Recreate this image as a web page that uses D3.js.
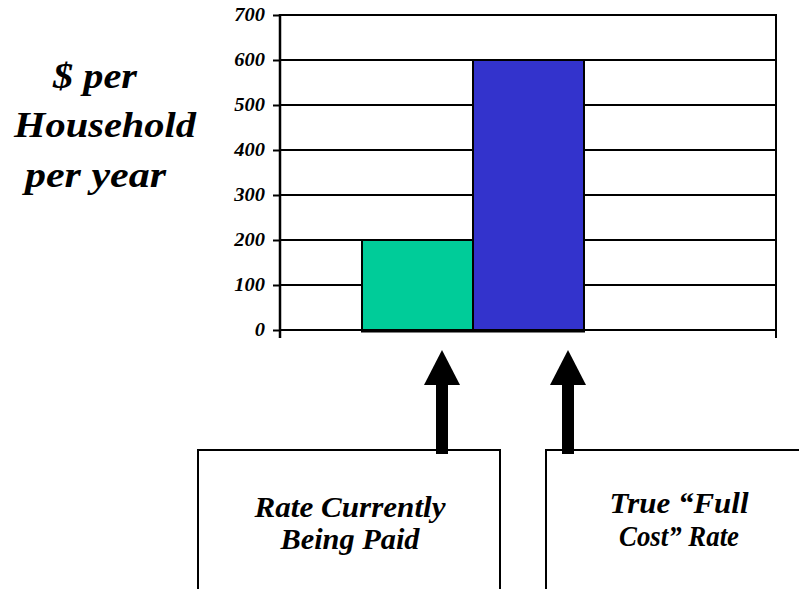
<!DOCTYPE html>
<html><head><meta charset="utf-8">
<script src="https://cdn.jsdelivr.net/npm/d3@7"></script>
<style>html,body{margin:0;padding:0;background:#fff;}svg{display:block;}</style>
</head><body>
<script>
const categories = ["Rate Currently Being Paid", "True \u201cFull Cost\u201d Rate"];
const values = [200, 600];
const barColors = ["#00CC99", "#3333CC"];
const tickValues = [0, 100, 200, 300, 400, 500, 600, 700];
const yTitleLines = ["$ per", "Household", "per year"];
const boxLines = [["Rate Currently", "Being Paid"], ["True \u201cFull", "Cost\u201d Rate"]];

const W = 799, H = 589;
const svg = d3.select("body").append("svg").attr("width", W).attr("height", H);
const font = "Times";
const sx = 1.14; // horizontal stretch of the original picture

const plotL = 280, plotR = 776, plotT = 15, plotB = 330;
const y = d3.scaleLinear().domain([0, 700]).range([plotB, plotT]);
const x = d3.scaleBand().domain(categories).range([362, 584]).padding(0);

// gridlines
svg.append("g").selectAll("line").data(tickValues).join("line")
  .attr("x1", plotL).attr("x2", plotR)
  .attr("y1", d => y(d)).attr("y2", d => y(d))
  .attr("stroke", "#000").attr("stroke-width", 2);

// right border
svg.append("line").attr("x1", plotR).attr("x2", plotR).attr("y1", plotT - 1).attr("y2", plotB + 8)
  .attr("stroke", "#000").attr("stroke-width", 2);

// y axis
const yAxis = d3.axisLeft(y).tickValues(tickValues).tickSize(7).tickPadding(8).tickFormat(d3.format("d"));
const ag = svg.append("g").attr("transform", `translate(${plotL},0)`).call(yAxis);
ag.attr("font-family", font);
ag.select(".domain").remove();
ag.selectAll(".tick line").attr("stroke", "#000").attr("stroke-width", 2);
ag.selectAll(".tick text").style("font-family", font).attr("font-size", 18)
  .attr("font-weight", "bold").attr("font-style", "italic").attr("fill", "#000")
  .attr("x", -15 / sx).attr("transform", `scale(${sx},1)`);
svg.append("line").attr("x1", plotL).attr("x2", plotL).attr("y1", plotT - 1).attr("y2", plotB + 8)
  .attr("stroke", "#000").attr("stroke-width", 2.5);

// bars
svg.append("g").selectAll("rect").data(values).join("rect")
  .attr("x", (d, i) => x(categories[i]))
  .attr("y", d => y(d))
  .attr("width", x.bandwidth())
  .attr("height", d => y(0) - y(d))
  .attr("fill", (d, i) => barColors[i])
  .attr("stroke", "#000").attr("stroke-width", 2);
svg.append("line").attr("x1", x(categories[0]) - 1).attr("x2", x(categories[1]) + x.bandwidth() + 1)
  .attr("y1", y(0) + 1).attr("y2", y(0) + 1).attr("stroke", "#000").attr("stroke-width", 3);

// y title
const titleX = [53, 14, 25], titleY = [88, 137, 187], titleW = [84, 182, 141];
yTitleLines.forEach((t, i) => {
  svg.append("text").attr("x", titleX[i]).attr("y", titleY[i]).text(t)
    .style("font-family", font).attr("font-size", 36).attr("font-weight", "bold").attr("font-style", "italic")
    .attr("textLength", titleW[i]).attr("lengthAdjust", "spacingAndGlyphs");
});

// boxes
const boxes = [{x: 198, w: 302}, {x: 546, w: 270}];
boxes.forEach(b => {
  svg.append("rect").attr("x", b.x).attr("y", 450).attr("width", b.w).attr("height", 160)
    .attr("fill", "none").attr("stroke", "#000").attr("stroke-width", 2);
});
const boxCx = [350, 679], boxBase = [[517, 549], [513, 546]], boxW = [[191, 139], [139, 120]];
boxLines.forEach((lines, i) => {
  lines.forEach((t, j) => {
    svg.append("text").attr("x", boxCx[i]).attr("y", boxBase[i][j]).attr("text-anchor", "middle").text(t)
      .style("font-family", font).attr("font-size", 29).attr("font-weight", "bold").attr("font-style", "italic")
      .attr("textLength", boxW[i][j]).attr("lengthAdjust", "spacingAndGlyphs");
  });
});

// arrows
const arrowX = [442, 568];
arrowX.forEach(cx => {
  svg.append("rect").attr("x", cx - 6).attr("y", 383).attr("width", 12).attr("height", 71).attr("fill", "#000");
  svg.append("path").attr("d", `M${cx},350 L${cx - 18},385 L${cx + 18},385 Z`).attr("fill", "#000");
});
</script>
</body></html>
